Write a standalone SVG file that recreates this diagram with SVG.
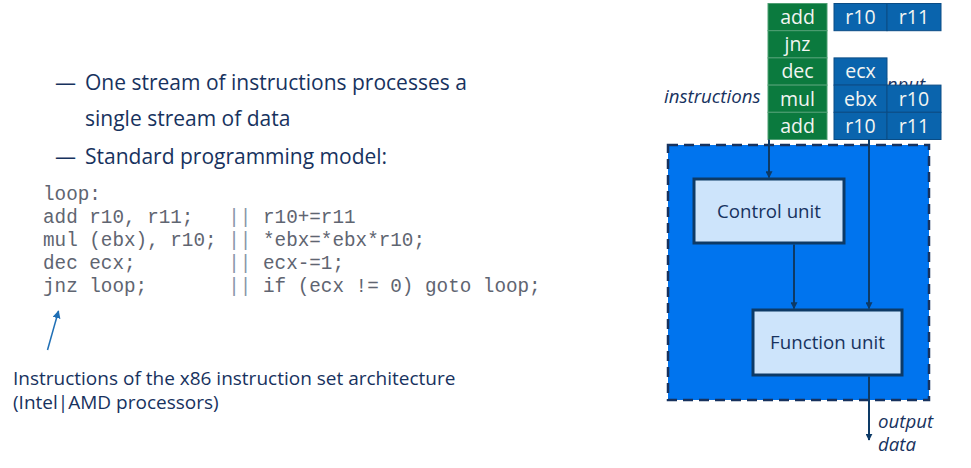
<svg xmlns="http://www.w3.org/2000/svg" width="971" height="468" viewBox="0 0 971 468">
  <defs>
    <marker id="arrow" viewBox="0 0 10 10" refX="9" refY="5" markerWidth="7" markerHeight="7" markerUnits="userSpaceOnUse" orient="auto">
      <path d="M0,0 L10,5 L0,10 z" fill="#0d3a66"/>
    </marker>
    <marker id="arrowBlue" viewBox="0 0 10 10" refX="9" refY="5" markerWidth="8" markerHeight="8" markerUnits="userSpaceOnUse" orient="auto">
      <path d="M0,0 L10,5 L0,10 z" fill="#1f6fb5"/>
    </marker>
  </defs>
  <style>
    .body { font-family: "Open Sans", "Noto Sans", sans-serif; fill: #17325e; }
    .label { font-family: "Open Sans", "Noto Sans", sans-serif; font-style: italic; fill: #17325e; font-size: 18.7px; }
    .code { font-family: "Liberation Mono", "Courier New", monospace; font-size: 19.3px; fill: #5f6571; }
    .bar { fill: #8a96a8; }
    .ins { fill: #0b7a3e; stroke: #4f9f73; stroke-width: 1; }
    .dat { fill: #0a64ad; stroke: #0a4c85; stroke-width: 1; }
    .cell { font-family: "Open Sans", "Noto Sans", sans-serif; font-size: 19.5px; fill: #f2f5f2; text-anchor: middle; }
    .unit { fill: #cde4fb; stroke: #0d3a66; stroke-width: 3; }
    .unitText { font-family: "Open Sans", "Noto Sans", sans-serif; font-size: 18.7px; fill: #17325e; text-anchor: middle; }
    .edge { stroke: #0d3a66; stroke-width: 2; fill: none; marker-end: url(#arrow); }
  </style>

  <rect width="971" height="468" fill="#ffffff"/>

  <!-- bullet list -->
  <g id="bullets" class="body" font-size="21">
    <text x="55" y="90">—</text>
    <text x="85" y="90">One stream of instructions processes a</text>
    <text x="85" y="126">single stream of data</text>
    <text x="55" y="164">—</text>
    <text x="85" y="164">Standard programming model:</text>
  </g>

  <!-- assembly listing: comment columns placed explicitly -->
  <g id="code" class="code">
    <text x="43" y="200">loop:</text>
    <text x="43" y="223">add r10, r11;<tspan class="bar" x="228.3">||</tspan><tspan x="263">r10+=r11</tspan></text>
    <text x="43" y="246">mul (ebx), r10;<tspan class="bar" x="228.3">||</tspan><tspan x="263">*ebx=*ebx*r10;</tspan></text>
    <text x="43" y="269">dec ecx;<tspan class="bar" x="228.3">||</tspan><tspan x="263">ecx-=1;</tspan></text>
    <text x="43" y="292">jnz loop;<tspan class="bar" x="228.3">||</tspan><tspan x="263" xml:space="preserve">if (ecx != 0) goto loop;</tspan></text>
  </g>

  <!-- annotation -->
  <g id="note">
    <line x1="47.5" y1="350" x2="58.5" y2="311" stroke="#1f6fb5" stroke-width="1.5" marker-end="url(#arrowBlue)"/>
    <text class="body" font-size="19" x="13" y="385">Instructions of the x86 instruction set architecture</text>
    <text class="body" font-size="19" x="13" y="409">(Intel|AMD processors)</text>
  </g>

  <!-- processor -->
  <g id="processor">
    <rect x="668" y="145" width="261" height="255" fill="#0074ee" stroke="#17325e" stroke-width="2.5" stroke-dasharray="10,6"/>
  </g>

  <!-- input data label (partly hidden by the data cells) -->
  <text class="label" x="882" y="91">input</text>

  <!-- instruction stream -->
  <g id="instructions">
    <rect class="ins" x="768" y="3.5" width="59" height="27.2"/>
    <rect class="ins" x="768" y="30.7" width="59" height="27.2"/>
    <rect class="ins" x="768" y="57.9" width="59" height="27.2"/>
    <rect class="ins" x="768" y="85.1" width="59" height="27.2"/>
    <rect class="ins" x="768" y="112.3" width="59" height="27.2"/>
    <text class="cell" x="797.5" y="24">add</text>
    <text class="cell" x="797.5" y="51.2">jnz</text>
    <text class="cell" x="797.5" y="78.4">dec</text>
    <text class="cell" x="797.5" y="105.6">mul</text>
    <text class="cell" x="797.5" y="132.8">add</text>
    <text class="label" x="664" y="103">instructions</text>
  </g>

  <!-- data stream -->
  <g id="data">
    <rect class="dat" x="834" y="3.5" width="53" height="27.2"/>
    <rect class="dat" x="887" y="3.5" width="54" height="27.2"/>
    <rect class="dat" x="834" y="57.9" width="53" height="27.2"/>
    <rect class="dat" x="834" y="85.1" width="53" height="27.2"/>
    <rect class="dat" x="887" y="85.1" width="54" height="27.2"/>
    <rect class="dat" x="834" y="112.3" width="53" height="27.2"/>
    <rect class="dat" x="887" y="112.3" width="54" height="27.2"/>
    <text class="cell" x="860.5" y="24">r10</text>
    <text class="cell" x="914" y="24">r11</text>
    <text class="cell" x="860.5" y="78.4">ecx</text>
    <text class="cell" x="860.5" y="105.6">ebx</text>
    <text class="cell" x="914" y="105.6">r10</text>
    <text class="cell" x="860.5" y="132.8">r10</text>
    <text class="cell" x="914" y="132.8">r11</text>
  </g>

  <g id="control-unit">
    <rect class="unit" x="694" y="179" width="150" height="64"/>
    <text class="unitText" x="769" y="218">Control unit</text>
  </g>

  <g id="function-unit">
    <rect class="unit" x="753" y="310" width="149" height="65"/>
    <text class="unitText" x="827.5" y="349">Function unit</text>
  </g>

  <!-- connectors -->
  <g id="connectors">
    <path class="edge" d="M769,139.5 V177.5"/>
    <path class="edge" d="M794,244.5 V308.5"/>
    <path class="edge" d="M869,139.5 V308.5"/>
    <path class="edge" d="M869,376.5 V440"/>
  </g>

  <text class="label" x="878" y="428">output</text>
  <text class="label" x="878" y="451">data</text>
</svg>
